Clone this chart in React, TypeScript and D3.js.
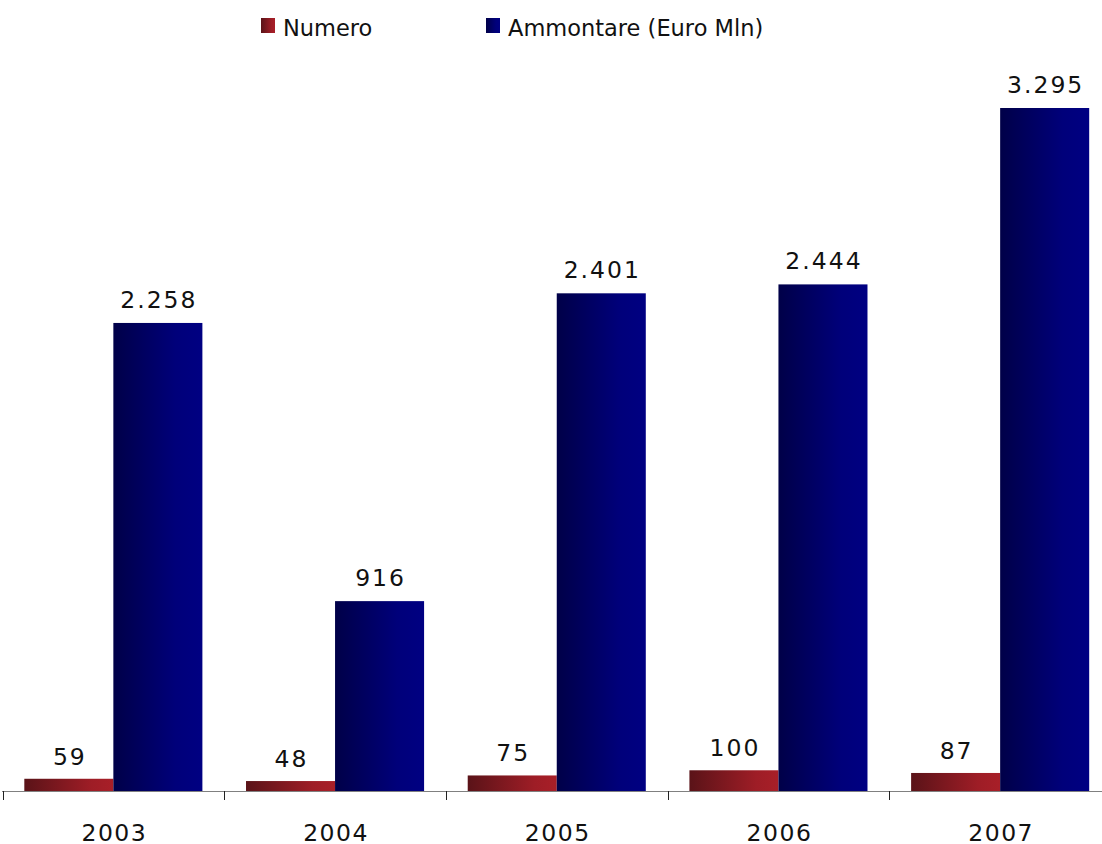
import React from "react";
import * as d3 from "d3";

const years = ["2003", "2004", "2005", "2006", "2007"];
const numero = [59, 48, 75, 100, 87];
const ammontare = [2258, 916, 2401, 2444, 3295];
const valueLabelsNumero = ["59", "48", "75", "100", "87"];
const valueLabelsAmmontare = ["2.258", "916", "2.401", "2.444", "3.295"];
const seriesNames = ["Numero", "Ammontare (Euro Mln)"];

const W = 1102;
const H = 844;
const baseY = 791;
const font = "'DejaVu Sans', Verdana, sans-serif";

export default function App() {
  const x0 = d3.scaleBand<string>().domain(years).range([2.5, 1111]).paddingInner(0).paddingOuter(0);
  const x1 = d3.scaleBand<string>().domain(["n", "a"]).range([0, x0.bandwidth()]).paddingInner(0).paddingOuter(0.245);
  const y = d3.scaleLinear().domain([0, 3500]).range([baseY, baseY - 3500 * (683 / 3295)]);

  return (
    <svg width={W} height={H} style={{ position: "absolute", left: 0, top: 0, background: "#fff" }}>
      <defs>
        <linearGradient id="gRed" x1="0" x2="1" y1="0" y2="0">
          <stop offset="0" stopColor="#5a1318" />
          <stop offset="0.75" stopColor="#9e1d26" />
          <stop offset="1" stopColor="#a81f28" />
        </linearGradient>
        <linearGradient id="gBlue" x1="0" x2="1" y1="0" y2="0">
          <stop offset="0" stopColor="#000048" />
          <stop offset="0.7" stopColor="#00007a" />
          <stop offset="1" stopColor="#000082" />
        </linearGradient>
      </defs>

      {/* Legend */}
      <rect x={261} y={18} width={14} height={15} fill="url(#gRed)" />
      <text x={283} y={36} fontFamily={font} fontSize={22.5} fill="#111">{seriesNames[0]}</text>
      <rect x={486} y={18} width={14} height={15} fill="url(#gBlue)" />
      <text x={508} y={36} fontFamily={font} fontSize={22.5} fill="#111">{seriesNames[1]}</text>

      {years.map((yr, i) => {
        const bx = x0(yr)!;
        const xn = bx + x1("n")!;
        const xa = bx + x1("a")!;
        const bw = x1.bandwidth();
        return (
          <g key={yr}>
            <rect x={xn} y={y(numero[i])} width={bw} height={baseY - y(numero[i])} fill="url(#gRed)" />
            <rect x={xa} y={y(ammontare[i])} width={bw} height={baseY - y(ammontare[i])} fill="url(#gBlue)" />
            <text x={xn + bw / 2 + 1} y={y(numero[i]) - 14} textAnchor="middle" fontFamily={font} fontSize={23.5} letterSpacing={2} fill="#111">{valueLabelsNumero[i]}</text>
            <text x={xa + bw / 2 + 1} y={y(ammontare[i]) - 15} textAnchor="middle" fontFamily={font} fontSize={23.5} letterSpacing={2} fill="#111">{valueLabelsAmmontare[i]}</text>
            <text x={bx + x0.bandwidth() / 2 + 1} y={841} textAnchor="middle" fontFamily={font} fontSize={23.5} letterSpacing={1.5} fill="#111">{yr}</text>
          </g>
        );
      })}

      {/* Axis */}
      <line x1={2} x2={W} y1={baseY + 0.5} y2={baseY + 0.5} stroke="#808080" strokeWidth={1.2} />
      {years.map((yr) => (
        <line key={"t" + yr} x1={Math.round(x0(yr)!) + 0.5} x2={Math.round(x0(yr)!) + 0.5} y1={baseY} y2={baseY + 9} stroke="#222" strokeWidth={1} />
      ))}
    </svg>
  );
}
